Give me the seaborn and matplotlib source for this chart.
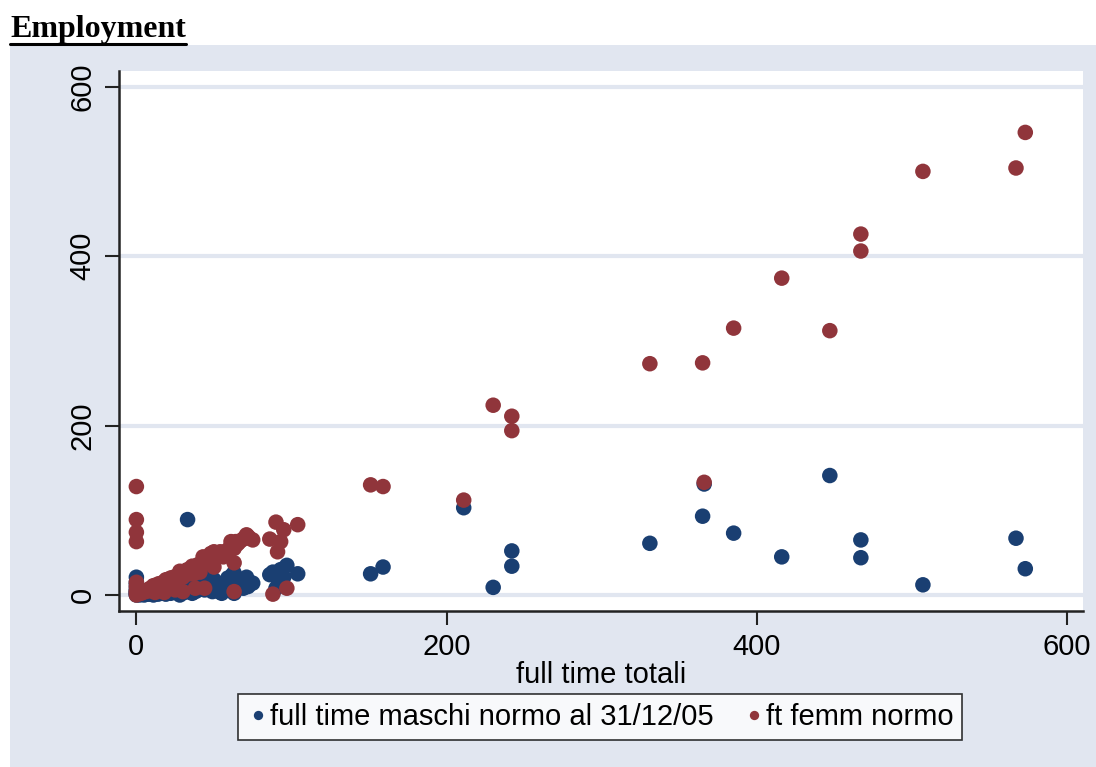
import numpy as np
import pandas as pd
import matplotlib
matplotlib.use("Agg")
import matplotlib.pyplot as plt
from matplotlib.patches import Rectangle
from matplotlib.lines import Line2D
import seaborn as sns

# ---- data ----
totale = [
    0, 0, 0, 0, 0, 0, 0, 0, 0,
    2, 3, 4, 5, 6, 7, 8, 9, 10, 11, 12, 12, 13, 14, 15, 16, 17, 18, 18, 19, 20,
    21, 22, 23, 24, 25, 25, 26, 27, 28, 28, 29, 30, 30, 31, 32, 33, 34, 35, 36,
    37, 38, 38, 39, 40, 41, 43, 44, 45, 46, 48, 49, 50, 50, 52, 54, 55, 56, 58,
    59, 60, 61, 62, 63, 63, 63, 64, 65, 66, 67, 69, 70, 71, 72, 73, 75,
    5, 10, 15, 20, 24, 28, 33, 36, 40, 44, 47, 53, 57,
    86, 88, 90, 91, 93, 95, 97, 104,
    151, 159, 211, 230, 242, 242, 331, 365, 366, 385, 416, 447, 467, 467,
    507, 567, 573,
]
maschi = [
    21, 12, 8, 4, 2, 0, 15, 5, 1,
    0, 1, 1, 0, 2, 1, 3, 1, 2, 0, 3, 9, 2, 1, 4, 2, 5, 3, 15, 1, 6,
    4, 2, 7, 3, 5, 19, 8, 4, 0, 3, 6, 9, 26, 3, 7, 89, 5, 10, 2,
    12, 4, 30, 8, 6, 14, 21, 14, 18, 21, 15, 4, 18, 6, 10, 6, 2, 14, 9,
    20, 12, 16, 24, 15, 26, 2, 20, 18, 15, 9, 8, 12, 21, 10, 13, 14,
    1, 2, 3, 4, 5, 3, 6, 8, 9, 6, 10, 4, 7,
    24, 27, 8, 20, 30, 21, 35, 25,
    25, 33, 103, 9, 52, 34, 61, 93, 131, 73, 45, 141, 65, 44,
    12, 67, 31,
]
femmine = [
    128, 89, 74, 63, 15, 10, 5, 0, 3,
    2, 2, 3, 5, 4, 6, 5, 8, 8, 11, 9, 3, 11, 13, 11, 14, 12, 15, 3, 18, 14,
    17, 20, 16, 21, 20, 6, 18, 23, 28, 25, 23, 21, 4, 28, 25, 30, 29, 25, 34,
    25, 34, 8, 31, 34, 27, 45, 8, 41, 44, 49, 40, 51, 33, 46, 51, 48, 45, 52,
    50, 55, 63, 57, 38, 55, 4, 63, 60, 62, 64, 66, 68, 71, 69, 67, 65,
    4, 7, 12, 16, 19, 24, 27, 31, 36, 39, 43, 47, 50,
    66, 1, 86, 51, 63, 77, 8, 83,
    130, 128, 112, 224, 211, 194, 273, 274, 133, 315, 374, 312, 406, 426,
    500, 504, 546,
]
label_m = "full time maschi normo al 31/12/05"
label_f = "ft femm normo"
x_ticks = [0, 200, 400, 600]
y_ticks = [0, 200, 400, 600]

df = pd.concat([
    pd.DataFrame({"tot": totale, "val": maschi, "serie": label_m}),
    pd.DataFrame({"tot": totale, "val": femmine, "serie": label_f}),
], ignore_index=True)

# ---- styling ----
sns.set_style("white")
plt.rcParams["font.family"] = ["Liberation Sans", "DejaVu Sans"]
plt.rcParams["text.color"] = "black"
plt.rcParams["axes.labelcolor"] = "black"
plt.rcParams["xtick.color"] = "black"
plt.rcParams["ytick.color"] = "black"

BG = "#E1E6F0"
NAVY = "#1A3F72"
MAROON = "#90353B"

fig = plt.figure(figsize=(10.96, 7.67), dpi=100)
fig.patch.set_facecolor("white")
fig.add_artist(Rectangle((10 / 1096, 0), 1 - 10 / 1096, 1 - 45 / 767,
                         transform=fig.transFigure, facecolor=BG,
                         edgecolor="none", zorder=-10))

ax = fig.add_axes([119 / 1096, 1 - 611 / 767, (1083 - 119) / 1096, (611 - 71) / 767])
ax.set_facecolor("white")

sns.scatterplot(data=df, x="tot", y="val", hue="serie",
                palette={label_m: NAVY, label_f: MAROON},
                s=125, linewidth=0, alpha=1, ax=ax, legend=True, zorder=3)

ax.set_xlim(-11.2, 610.2)
ax.set_ylim(-18.9, 618.5)
ax.set_xticks(x_ticks)
ax.set_yticks(y_ticks)
ax.set_xticklabels([str(v) for v in x_ticks], fontsize=21)
ax.set_yticklabels([str(v) for v in y_ticks], fontsize=21, rotation=90, va="center")
ax.tick_params(axis="both", direction="out", length=10, width=1.5, color="#222222",
               labelcolor="black", bottom=True, left=True, pad=6)
ax.set_xlabel("full time totali", fontsize=21, labelpad=0, color="black")
ax.set_ylabel("")
ax.grid(False)
for yv in y_ticks:
    ax.axhline(yv, color=BG, lw=3, zorder=1)

for side in ["top", "right"]:
    ax.spines[side].set_visible(False)
for side in ["left", "bottom"]:
    ax.spines[side].set_color("#222222")
    ax.spines[side].set_linewidth(1.8)

# legend
handles, labels = ax.get_legend_handles_labels()
ax.get_legend().remove()
leg = fig.legend(handles, labels, loc="center", bbox_to_anchor=(600 / 1096, 1 - 717 / 767),
                 ncol=2, frameon=True, fancybox=False, fontsize=21,
                 markerscale=0.6, handletextpad=0.0, columnspacing=1.0,
                 borderpad=0.3, borderaxespad=0, handlelength=0.8)
leg.get_frame().set_edgecolor("black")
leg.get_frame().set_linewidth(1.2)
leg.get_frame().set_facecolor("white")
for txt in leg.get_texts():
    txt.set_color("black")

# title with underline
t = fig.text(10 / 1096, 1 - 30 / 767, "Employment", fontsize=23, fontweight="bold",
             family=["Liberation Serif", "DejaVu Serif"], va="center", ha="left",
             color="black")
fig.canvas.draw()
bb = t.get_window_extent()
W, H = fig.bbox.width, fig.bbox.height
yline = (bb.y0 + 1) / H
fig.add_artist(Line2D([bb.x0 / W, bb.x1 / W], [yline, yline],
                      transform=fig.transFigure, color="black", lw=2.2))

fig.savefig("out.png", dpi=100, facecolor=fig.get_facecolor())
